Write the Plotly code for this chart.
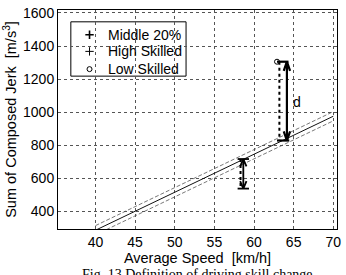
import plotly.graph_objects as go

# Data
line_x = [40, 70]
middle_y = [285, 975]
upper_y = [313, 1003]
lower_y = [257, 947]

low_x = [62.9]
low_y = [1305]

# big arrow "d": from low skilled point down to regression line
d_x = 64.15
d_top = 1305
d_bottom = 828
d_dot_x = 63.2

# small arrow
s_x = 58.65
s_top = 716
s_bottom = 537
s_dot_x = 58.3

x_ticks = [40, 45, 50, 55, 60, 65, 70]
y_ticks = [400, 600, 800, 1000, 1200, 1400, 1600]

legend_labels = ["Middle 20%", "High Skilled", "Low Skilled"]
legend_symbols = ["cross-thin", "cross-thin", "circle-open"]
legend_widths = [1.6, 1.0, 1.0]
legend_sizes = [6, 6, 5]

fig = go.Figure()

fig.add_trace(go.Scatter(x=line_x, y=upper_y, mode="lines", showlegend=False,
                         line=dict(color="#555", width=0.8, dash="4px,2px")))
fig.add_trace(go.Scatter(x=line_x, y=lower_y, mode="lines", showlegend=False,
                         line=dict(color="#555", width=0.8, dash="4px,2px")))
fig.add_trace(go.Scatter(x=line_x, y=middle_y, mode="lines", showlegend=False,
                         line=dict(color="#111", width=1)))

fig.add_trace(go.Scatter(x=low_x, y=low_y, mode="markers", name="Low Skilled", showlegend=False,
                         marker=dict(symbol="circle-open", size=5, color="black",
                                     line=dict(color="black", width=1))))

# dotted verticals
fig.add_trace(go.Scatter(x=[d_dot_x, d_dot_x], y=[low_y[0], d_bottom], mode="lines",
                         showlegend=False, line=dict(color="black", width=2, dash="dot")))
fig.add_trace(go.Scatter(x=[s_dot_x, s_dot_x], y=[s_top, s_bottom], mode="lines",
                         showlegend=False, line=dict(color="black", width=2, dash="dot")))

# big arrow with bars
hw, hh = 0.4, 55
bx = [low_x[0], d_x + 0.2, None,
      d_dot_x - 0.3, d_x + 0.3, None,
      d_x - hw, d_x, d_x + hw, None,
      d_x, d_x, None,
      d_x - hw, d_x, d_x + hw]
by = [d_top, d_top, None,
      d_bottom, d_bottom, None,
      d_top - hh, d_top, d_top - hh, None,
      d_top, d_bottom, None,
      d_bottom + hh, d_bottom, d_bottom + hh]
fig.add_trace(go.Scatter(x=bx, y=by, mode="lines", showlegend=False,
                         line=dict(color="black", width=2.2)))

# small arrow with caps
cw = 0.72
shh = 45
sx = [s_x - cw, s_x + cw, None,
      s_x - cw, s_x + cw, None,
      s_x - hw, s_x, s_x + hw, None,
      s_x, s_x, None,
      s_x - hw, s_x, s_x + hw]
sy = [s_top, s_top, None,
      s_bottom, s_bottom, None,
      s_top - shh, s_top, s_top - shh, None,
      s_top, s_bottom, None,
      s_bottom + shh, s_bottom, s_bottom + shh]
fig.add_trace(go.Scatter(x=sx, y=sy, mode="lines", showlegend=False,
                         line=dict(color="black", width=1.8)))

# ---- manual legend (box + markers + labels) on an overlay paper-like axis ----
lg_x0, lg_x1, lg_y0, lg_y1 = 0.046, 0.459, 0.698, 0.946
row_y = [0.887, 0.811, 0.730]
mark_x = 0.113
text_x = 0.171
fig.add_shape(type="rect", xref="paper", yref="paper", x0=lg_x0, x1=lg_x1, y0=lg_y0, y1=lg_y1,
              line=dict(color="black", width=1), fillcolor="white", layer="between")
for lab, sym, w, sz, ry in zip(legend_labels, legend_symbols, legend_widths, legend_sizes, row_y):
    fig.add_trace(go.Scatter(x=[mark_x], y=[ry], xaxis="x2", yaxis="y2", mode="markers",
                             showlegend=False, hoverinfo="skip",
                             marker=dict(symbol=sym, size=sz, color="black",
                                         line=dict(color="black", width=w))))
    fig.add_annotation(x=text_x, y=ry, xref="paper", yref="paper", xanchor="left",
                       yanchor="middle", text=lab, showarrow=False,
                       font=dict(size=14, color="black", family="Liberation Sans, Arial"))

fig.add_annotation(x=65.4, y=1063, text="d", showarrow=False,
                   font=dict(size=14, color="black", family="Liberation Sans, Arial"))

fig.add_annotation(x=0.5, y=-0.164, xref="paper", yref="paper", yanchor="top",
                   text="Fig. 13 Definition of driving skill change", showarrow=False,
                   font=dict(size=14, color="black", family="Liberation Serif, Times New Roman"))

axis_common = dict(showline=True, linecolor="black", linewidth=1, mirror=True,
                   showgrid=True, gridcolor="#555", gridwidth=0.8, griddash="dot",
                   zeroline=False, ticks="", tickfont=dict(size=14, color="black"))

fig.update_xaxes(range=[35.27, 70.47], tickvals=x_ticks,
                 title=dict(text="Average Speed&nbsp; [km/h]", font=dict(size=14.5, color="black"),
                            standoff=2), **axis_common)
fig.update_yaxes(range=[292.5, 1618], tickvals=y_ticks,
                 title=dict(text="Sum of Composed Jerk&nbsp; [m/s<sup>3</sup>]",
                            font=dict(size=14.5, color="black"), standoff=2),
                 **axis_common)

fig.update_layout(
    width=346, height=275,
    margin=dict(l=58, r=5, t=7, b=46),
    paper_bgcolor="white", plot_bgcolor="white",
    font=dict(family="Liberation Sans, Arial", color="black"),
    showlegend=False,
    xaxis2=dict(overlaying="x", range=[0, 1], visible=False, fixedrange=True),
    yaxis2=dict(overlaying="y", range=[0, 1], visible=False, fixedrange=True),
)

fig.write_html("out.html")
